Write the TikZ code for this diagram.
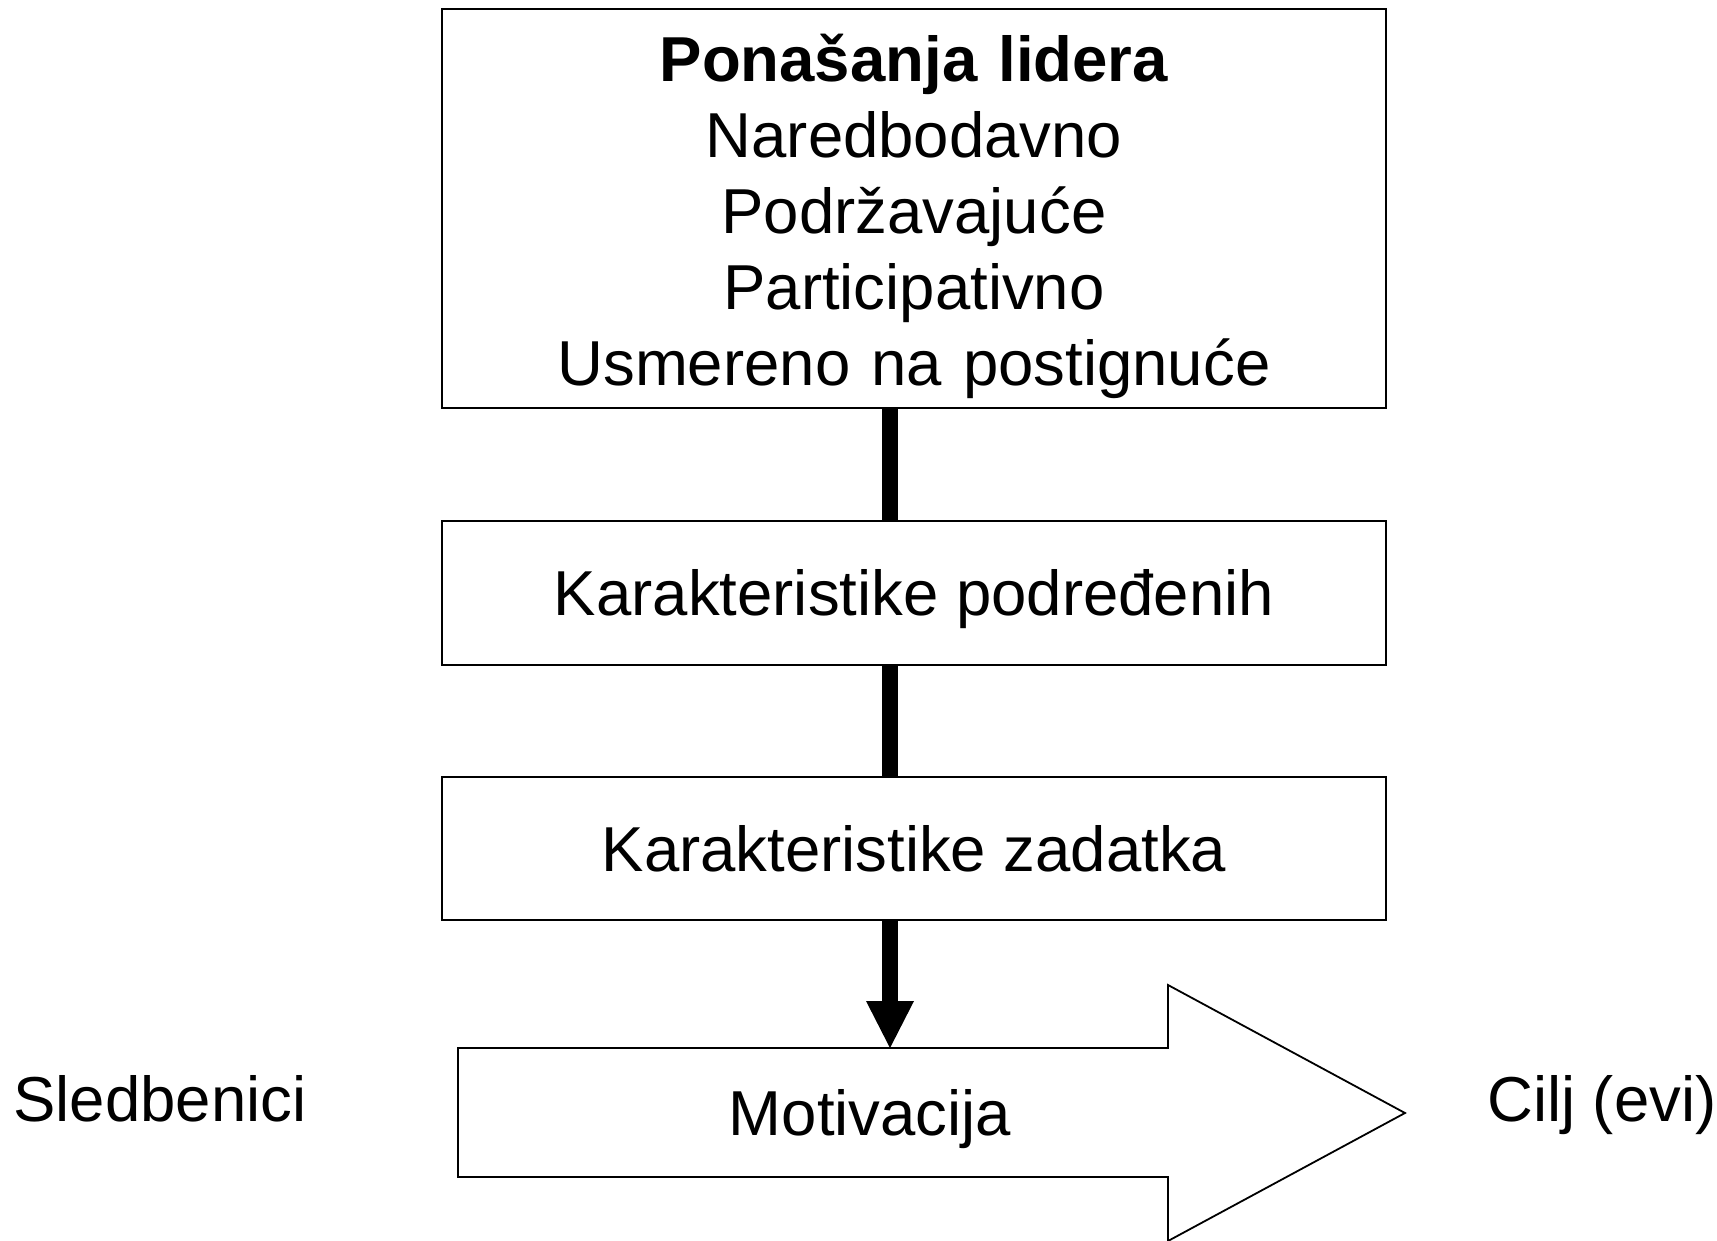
\documentclass[tikz,border=0pt]{standalone}
\usepackage{fontspec}
\setmainfont{Liberation Sans}
\usetikzlibrary{arrows.meta}
\begin{document}
\begin{tikzpicture}[x=1pt,y=-1pt,
  box/.style={draw=black,line width=2pt,fill=white,rectangle,inner sep=0pt,minimum width=944pt},
  lbl/.style={font=\fontsize{63.5}{76}\selectfont,inner sep=0pt,text height=45.5pt,text depth=0pt},
  conn/.style={line width=16pt,black},
]
\useasboundingbox[fill=white] (0,0) rectangle (1717,1241);
% boxes
\node[box,minimum height=399pt] (lead) at (914,208.5) {};
\node[font=\fontsize{63.5}{76}\selectfont,align=center,text width=944pt,anchor=base,inner sep=0pt] (leadtxt) at (914,82)
  {\textbf{Ponašanja lidera}\\Naredbodavno\\Podržavajuće\\Participativno\\Usmereno na postignuće};
\node[box,lbl,minimum height=144pt] (sub) at (914,593) {Karakteristike podređenih};
\node[box,lbl,minimum height=143pt] (task) at (914,848.5) {Karakteristike zadatka};
% big arrow
\draw[line width=1.8pt,fill=white] (458,1048) -- (1168,1048) -- (1168,985) -- (1405,1113)
  -- (1168,1241) -- (1168,1177) -- (458,1177) -- cycle;
\node[lbl] (mot) at (870,1113) {Motivacija};
\node[lbl,anchor=base] (sled) at (160,1121) {Sledbenici};
\node[lbl,anchor=base west] (cilj) at (1487,1121) {Cilj (evi)};
% connectors
\coordinate (cx) at (890,0);
\coordinate (mtop) at (890,1048);
\draw[conn] (lead.south -| cx) -- (sub.north -| cx);
\draw[conn] (sub.south -| cx) -- (task.north -| cx);
\draw[conn,-{Triangle[width=48pt,length=47pt,line width=0pt]}] (task.south -| cx) -- (mtop);
\end{tikzpicture}
\end{document}
